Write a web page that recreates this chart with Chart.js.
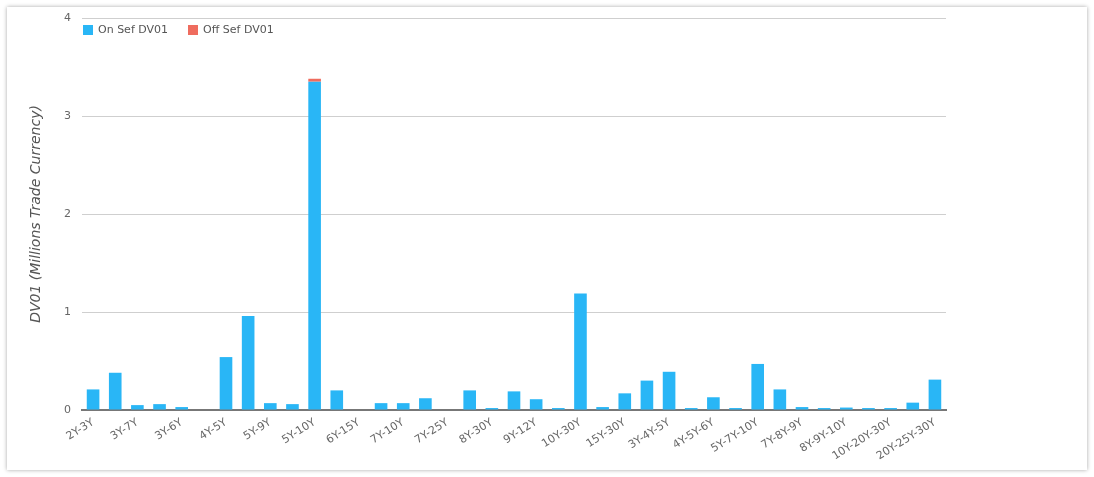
<!DOCTYPE html>
<html>
<head>
<meta charset="utf-8">
<script src="https://cdn.jsdelivr.net/npm/chart.js@4"></script>
<style>
  html, body { margin: 0; padding: 0; background: #fff; }
  body { width: 1094px; height: 477px; position: relative; overflow: hidden; font-family: "DejaVu Sans", Verdana, sans-serif; }
  #card { position: absolute; left: 7px; top: 7px; width: 1080px; height: 463px; background: #fff; box-shadow: 0 0 4px rgba(0,0,0,0.35); }
  #wrap { position: absolute; left: 0; top: 0; width: 1094px; height: 477px; }
  #legend { position: absolute; left: 83px; top: 23px; font-size: 11px; color: #555; display: flex; }
  .item { display: flex; align-items: center; margin-right: 20px; }
  .sw { width: 10px; height: 10px; margin-right: 5px; }
</style>
</head>
<body>
<div id="card"></div>
<div id="wrap"><canvas id="c" width="1094" height="477"></canvas></div>
<div id="legend"></div>
<script>
// Categories (every other label is shown on the axis, as in the reference)
const categories = [
  "2Y-3Y", "2Y-5Y", "3Y-7Y", "3Y-5Y", "3Y-6Y", "4Y-10Y", "4Y-5Y", "5Y-7Y", "5Y-9Y", "5Y-30Y",
  "5Y-10Y", "6Y-10Y", "6Y-15Y", "7Y-15Y", "7Y-10Y", "7Y-20Y", "7Y-25Y", "8Y-10Y", "8Y-30Y", "9Y-10Y",
  "9Y-12Y", "10Y-15Y", "10Y-30Y", "12Y-30Y", "15Y-30Y", "2Y-3Y-5Y", "3Y-4Y-5Y", "3Y-5Y-7Y", "4Y-5Y-6Y", "5Y-6Y-7Y",
  "5Y-7Y-10Y", "6Y-7Y-8Y", "7Y-8Y-9Y", "7Y-10Y-15Y", "8Y-9Y-10Y", "10Y-15Y-20Y", "10Y-20Y-30Y", "15Y-20Y-30Y", "20Y-25Y-30Y"
];
const onSefDV01 = [
  0.21, 0.38, 0.05, 0.06, 0.03, 0.005, 0.54, 0.96, 0.07, 0.06,
  3.35, 0.20, 0.005, 0.07, 0.07, 0.12, 0.005, 0.20, 0.02, 0.19,
  0.11, 0.02, 1.19, 0.03, 0.17, 0.30, 0.39, 0.02, 0.13, 0.02,
  0.47, 0.21, 0.03, 0.02, 0.025, 0.02, 0.02, 0.075, 0.31
];
const offSefDV01 = [
  0, 0, 0, 0, 0, 0, 0, 0, 0, 0,
  0.03, 0, 0, 0, 0, 0, 0, 0, 0, 0,
  0, 0, 0, 0, 0, 0, 0, 0, 0, 0,
  0, 0, 0, 0, 0, 0, 0, 0, 0
];
const yTicks = [0, 1, 2, 3, 4];

const BLUE = "#29b6f6";
const RED = "#ef6c5e";

const legendEl = document.getElementById("legend");
[["On Sef DV01", BLUE], ["Off Sef DV01", RED]].forEach(([t, c]) => {
  const d = document.createElement("div");
  d.className = "item";
  d.innerHTML = '<span class="sw" style="background:' + c + '"></span><span>' + t + '</span>';
  legendEl.appendChild(d);
});

const font = { family: "'DejaVu Sans', Verdana, sans-serif", size: 11 };

new Chart(document.getElementById("c"), {
  type: "bar",
  data: {
    labels: categories,
    datasets: [
      { label: "On Sef DV01", data: onSefDV01, backgroundColor: BLUE, borderWidth: 0, barPercentage: 0.57, categoryPercentage: 1 },
      { label: "Off Sef DV01", data: offSefDV01, backgroundColor: RED, borderWidth: 0, barPercentage: 0.57, categoryPercentage: 1 }
    ]
  },
  options: {
    responsive: false,
    animation: false,
    layout: { padding: { left: 24, right: 148, top: 18, bottom: 0 } },
    plugins: { legend: { display: false }, tooltip: { enabled: false } },
    scales: {
      x: {
        stacked: true,
        grid: { display: false, drawTicks: false },
        border: { display: true, color: "#777", width: 2 },
        ticks: {
          autoSkip: false,
          minRotation: 32, maxRotation: 32,
          padding: 6,
          color: "#666",
          font: font,
          callback: function (v, i) { return i % 2 === 0 ? categories[i] : ""; }
        },
        afterFit: function (s) { s.height = 67; }
      },
      y: {
        stacked: true,
        min: 0, max: 4,
        afterBuildTicks: function (s) { s.ticks = yTicks.map(v => ({ value: v })); },
        grid: { color: "#cfcfcf", drawTicks: false, lineWidth: 1 },
        border: { display: false },
        ticks: { padding: 11, color: "#666", font: font },
        title: {
          display: true,
          text: "DV01 (Millions Trade Currency)",
          color: "#555",
          font: { family: "'DejaVu Sans', Verdana, sans-serif", size: 14, style: "italic" },
          padding: { top: 4, bottom: 4 }
        },
        afterFit: function (s) { s.width = 58; }
      }
    }
  }
});
</script>
</body>
</html>
